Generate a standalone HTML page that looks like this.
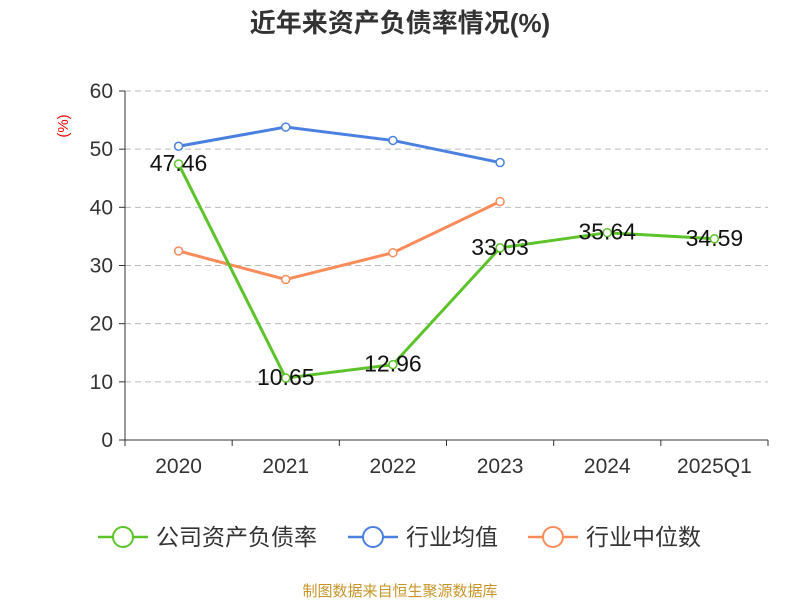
<!DOCTYPE html>
<html><head><meta charset="utf-8"><style>
body{margin:0;background:#fff;}
svg text{font-family:"Liberation Sans","Noto Sans CJK SC",sans-serif;}
</style></head><body>
<svg id="chart" width="800" height="600" xmlns="http://www.w3.org/2000/svg">
<text x="400" y="32" text-anchor="middle" font-size="26" font-weight="bold" fill="#333">近年来资产负债率情况(%)</text>
<text x="68" y="126" text-anchor="middle" font-size="15" fill="#e00" transform="rotate(-90 68 126)">(%)</text>
<g id="grid"></g><g id="axes"></g><g id="series"></g>
<g id="legend"></g>
<text x="400" y="596" text-anchor="middle" font-size="15" fill="#c8952a">制图数据来自恒生聚源数据库</text>
</svg>
<script>
const categories=["2020","2021","2022","2023","2024","2025Q1"];
const yTicks=[0,10,20,30,40,50,60];
const companyValues=[47.46,10.65,12.96,33.03,35.64,34.59];
const companyLabels=["47.46","10.65","12.96","33.03","35.64","34.59"];
const industryAvg=[50.5,53.8,51.5,47.7];
const industryMedian=[32.5,27.6,32.2,41.0];
const NS="http://www.w3.org/2000/svg";
const svg=document.getElementById('chart');
const x0=125,x1=768,yBase=440,yTop=91,yMax=60;
const band=(x1-x0)/categories.length;
const xs=i=>x0+band*(i+0.5);
const ys=v=>yBase-(v/yMax)*(yBase-yTop);
function mk(tag,attrs,parent){const e=document.createElementNS(NS,tag);for(const k in attrs)e.setAttribute(k,attrs[k]);parent.appendChild(e);return e;}
const grid=document.getElementById('grid'),axes=document.getElementById('axes'),ser=document.getElementById('series'),leg=document.getElementById('legend');
yTicks.forEach(t=>{
 const y=ys(t);
 if(t>0){const l=mk('line',{x1:x0,x2:x1,y1:y,y2:y,stroke:'#bbb','stroke-dasharray':'6,4'},grid);
 
 }
 const tk=mk('line',{x1:x0-6,x2:x0,y1:y,y2:y,stroke:'#333'},axes);
 
 
 const tx=mk('text',{x:x0-12,y:y+7,'text-anchor':'end','font-size':21,fill:'#333'},axes);tx.textContent=t;
 
 
});
const ya=mk('line',{x1:x0,x2:x0,y1:yTop,y2:yBase,stroke:'#333'},axes);


const xa=mk('line',{x1:x0,x2:x1,y1:yBase,y2:yBase,stroke:'#333'},axes);


for(let i=0;i<=categories.length;i++){const tk=mk('line',{x1:x0+band*i,x2:x0+band*i,y1:yBase,y2:yBase+6,stroke:'#333'},axes);
 
 }
categories.forEach((c,i)=>{const t=mk('text',{x:xs(i),y:473,'text-anchor':'middle','font-size':21,fill:'#333'},axes);t.textContent=c;
 
 });
function series(vals,color,name){
 const p=mk('polyline',{points:vals.map((v,i)=>xs(i)+','+ys(v)).join(' '),fill:'none',stroke:color,'stroke-width':3},ser);
 
 
 vals.forEach((v,i)=>{const c=mk('circle',{cx:xs(i),cy:ys(v),r:4,fill:'#fff',stroke:color,'stroke-width':1.5},ser);
 
 });
}
series(industryAvg,'#4a80e0','industry-average');
series(industryMedian,'#fa8c5a','industry-median');
series(companyValues,'#5cc42a','company-debt-ratio');
companyValues.forEach((v,i)=>{const t=mk('text',{x:xs(i),y:ys(v)+7,'text-anchor':'middle','font-size':23,fill:'#111'},ser);t.textContent=companyLabels[i];
 
 });
[['公司资产负债率','#5cc42a',98],['行业均值','#4a80e0',348],['行业中位数','#fa8c5a',528]].forEach(([n,c,x])=>{
 const g=mk('g',{},leg);
 
 
 mk('line',{x1:x,x2:x+50,y1:537,y2:537,stroke:c,'stroke-width':2.5},g);
 mk('circle',{cx:x+25,cy:537,r:10,fill:'#fff',stroke:c,'stroke-width':2},g);
 const t=mk('text',{x:x+58,y:545,'font-size':23,fill:'#333'},g);t.textContent=n;
});
</script>
</body></html>
